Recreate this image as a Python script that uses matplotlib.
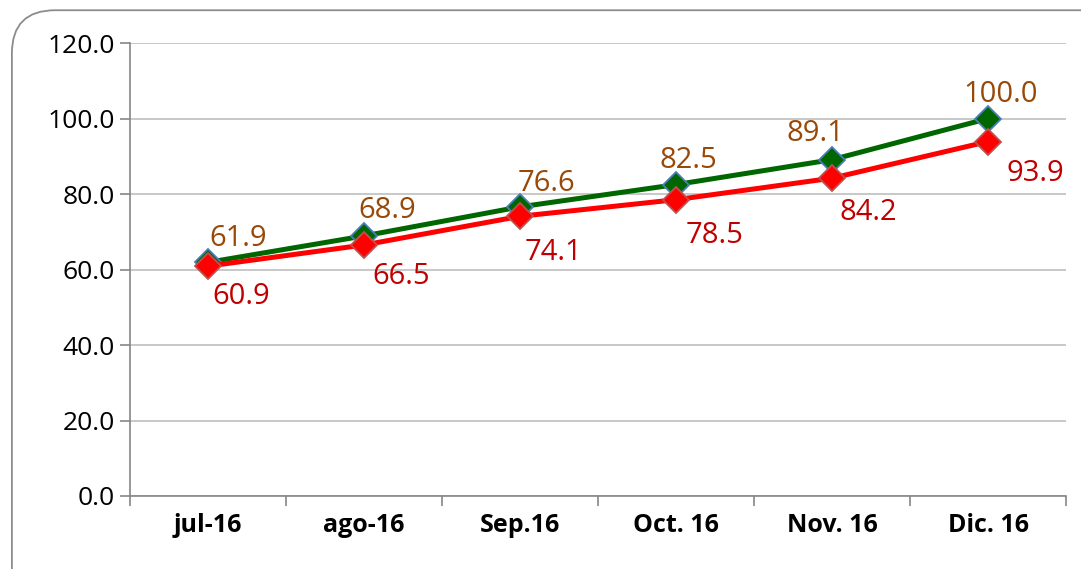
# Index chart jul-16 .. Dic. 16

import matplotlib.pyplot as plt
from matplotlib.patches import FancyBboxPatch

months = ['jul-16', 'ago-16', 'Sep.16', 'Oct. 16', 'Nov. 16', 'Dic. 16']
green_vals = [61.9, 68.9, 76.6, 82.5, 89.1, 100.0]
red_vals = [60.9, 66.5, 74.1, 78.5, 84.2, 93.9]
y_ticks = [0, 20, 40, 60, 80, 100, 120]

# label offsets in points (dx, dy)
green_off = [(22, 17), (17, 18), (19, 17), (9, 17), (-12, 19), (9, 17)]
red_off = [(24, -22), (27, -23), (24, -26), (28, -26), (26, -25), (34, -23)]

plt.rcParams['font.family'] = ['Open Sans', 'DejaVu Sans']

fig = plt.figure(figsize=(10.81, 5.69), dpi=100)
border = FancyBboxPatch((0.011, -0.2), 1.1, 1.182, boxstyle='round,pad=0,rounding_size=0.04',
                        transform=fig.transFigure, facecolor='none', edgecolor='#8c8c8c',
                        linewidth=1.3, mutation_aspect=1.9)
fig.patches.append(border)

ax = fig.add_axes([0.1203, 0.1283, 0.866, 0.7961])
x = list(range(len(months)))

ax.plot(x, green_vals, color='#006600', linewidth=3.6, marker='D', markersize=13,
        markerfacecolor='#006600', markeredgecolor='#4a7ebb', markeredgewidth=1.3, zorder=4)
ax.plot(x, red_vals, color='#ff0000', linewidth=3.6, marker='D', markersize=13,
        markerfacecolor='#ff0000', markeredgecolor='#c0504d', markeredgewidth=1.3, zorder=5)

for i in x:
    ax.annotate(f'{green_vals[i]:.1f}', (i, green_vals[i]), xytext=green_off[i],
                textcoords='offset points', ha='center', va='center',
                color='#984807', fontsize=21)
    ax.annotate(f'{red_vals[i]:.1f}', (i, red_vals[i]), xytext=red_off[i],
                textcoords='offset points', ha='center', va='center',
                color='#c00000', fontsize=21)

ax.set_xlim(-0.5, len(months) - 0.5)
ax.set_ylim(0, 120)
ax.set_yticks(y_ticks)
ax.set_yticklabels([f'{v:.1f}' for v in y_ticks], fontsize=19)
ax.set_xticks([i - 0.5 for i in range(len(months) + 1)])
ax.set_xticklabels([])
ax.set_xticks(x, minor=True)
ax.set_xticklabels(months, minor=True, fontsize=18, fontweight='bold')
ax.tick_params(axis='x', which='minor', length=0, pad=12)
ax.tick_params(axis='x', which='major', length=7, color='#868686', width=1.2)
ax.tick_params(axis='y', length=7, color='#868686', width=1.2, pad=4)

ax.grid(axis='y', color='#bfbfbf', linewidth=1.2)
ax.set_axisbelow(True)
for s in ['top', 'right']:
    ax.spines[s].set_visible(False)
for s in ['left', 'bottom']:
    ax.spines[s].set_color('#868686')
    ax.spines[s].set_linewidth(1.2)

fig.savefig('out.png', dpi=100)
